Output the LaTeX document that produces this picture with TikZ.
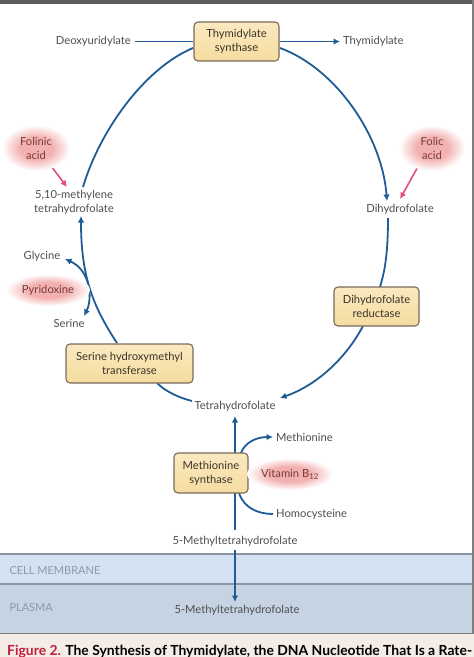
\documentclass[tikz,border=0pt]{standalone}
\usepackage{fontspec}
\setmainfont{Lato}
\usepackage{tikz}
\usetikzlibrary{backgrounds,shapes,arrows.meta}
\definecolor{pathblue}{HTML}{1F5B94}
\definecolor{vitpink}{HTML}{E0507A}
\definecolor{glowpink}{HTML}{F3B0B0}
\definecolor{enzfill}{HTML}{F5DCA0}
\definecolor{enztop}{HTML}{FAE9C0}
\definecolor{enzline}{HTML}{7A6A5A}
\definecolor{enztext}{HTML}{3D3329}
\definecolor{labeltext}{HTML}{4F4F4F}
\definecolor{vittext}{HTML}{7A3B3B}
\definecolor{regiontext}{HTML}{8D9AAB}
\definecolor{membrane}{HTML}{D3E1F2}
\definecolor{membranemid}{HTML}{E2EBF7}
\definecolor{plasma}{HTML}{C6D3E3}
\definecolor{bandline}{HTML}{8A96A5}
\definecolor{capback}{HTML}{F4ECE6}
\definecolor{figred}{HTML}{C41E3A}
\definecolor{frame}{HTML}{5E5E5E}
\pgfdeclareradialshading{glowshade}{\pgfpoint{0bp}{0bp}}{color(0bp)=(glowpink); color(12bp)=(glowpink); color(25bp)=(white); color(50bp)=(white)}
\newcommand{\diagfont}{\fontsize{11.2}{14}\selectfont}
\newcommand{\regfont}{\fontsize{11}{14}\selectfont}
\newcommand{\capfont}{\fontsize{13.9}{16}\selectfont\bfseries}
\pgfdeclarelayer{bglayer}
\pgfdeclarelayer{edgelayer}
\pgfdeclarelayer{nodelayer}
\pgfsetlayers{bglayer,edgelayer,nodelayer,main}
\tikzstyle{none}=[inner sep=0pt]
\tikzstyle{enzyme}=[rectangle,rounded corners=4pt,top color=enztop,bottom color=enzfill,draw=enzline,line width=1.1,align=center,text=enztext,minimum height=39,inner sep=0pt,font=\diagfont]
\tikzstyle{species}=[inner sep=1pt,align=center,text=labeltext,font=\diagfont]
\tikzstyle{vitamin}=[ellipse,shading=glowshade,inner sep=0pt,align=center,text=vittext,font=\diagfont]
\tikzstyle{region}=[anchor=west,text=regiontext,font=\regfont]
\tikzstyle{flow}=[-{Latex[length=6.5pt,width=6.5pt]},draw=pathblue,line width=1.8]
\tikzstyle{link}=[-,draw=pathblue,line width=1.8]
\tikzstyle{twoway}=[{Latex[length=6.5pt,width=6.5pt]}-{Latex[length=6.5pt,width=6.5pt]},draw=pathblue,line width=1.8]
\tikzstyle{vitarrow}=[-{Latex[length=6.5pt,width=6.5pt]},draw=vitpink,line width=1.6]
\begin{document}
\begin{tikzpicture}[x=1pt,y=-1pt]
	\useasboundingbox (0,0) rectangle (474,657);
	\clip (0,0) rectangle (474,657);
	\begin{pgfonlayer}{bglayer}
		\fill [white] (0,0) rectangle (474,657);
		\shade [top color=membrane,middle color=membranemid,bottom color=membrane] (0,554) rectangle (474,584);
		\fill [plasma] (0,584) rectangle (474,633);
		\fill [capback] (0,634) rectangle (474,657);
		\draw [bandline,line width=1.2] (0,554) -- (474,554);
		\draw [bandline,line width=1.2] (0,584) -- (474,584);
		\draw [frame!80,line width=1.6] (0,633.5) -- (474,633.5);
		\fill [frame] (0,0) rectangle (474,4);
		\fill [frame!80] (471.5,0) rectangle (474,633);
	\end{pgfonlayer}
	\begin{pgfonlayer}{nodelayer}
		\node [style=enzyme,minimum width=85] (ts) at (236.5,41.5) {Thymidylate\\synthase};
		\node [style=species,anchor=east] (dU) at (132,41.5) {Deoxyuridylate};
		\node [style=species,anchor=west] (dT) at (342,41.5) {Thymidylate};

		\node [style=vitamin,minimum width=68,minimum height=46] (folinic) at (36,148) {Folinic\\acid};
		\node [style=vitamin,minimum width=66,minimum height=46] (folic) at (432,148) {Folic\\acid};
		\node [style=species] (mthf) at (74,202) {5,10-methylene\\tetrahydrofolate};
		\node [style=species] (dhf) at (400,209) {Dihydrofolate};

		\node [style=species] (gly) at (42,256) {Glycine};
		\node [style=vitamin,minimum width=84,minimum height=32] (pyr) at (48,290) {Pyridoxine};
		\node [style=species] (ser) at (69,323) {Serine};

		\node [style=enzyme,minimum width=127] (shmt) at (129.5,363.5) {Serine hydroxymethyl\\transferase};
		\node [style=enzyme,minimum width=85] (dhfr) at (376.5,306.5) {Dihydrofolate\\reductase};
		\node [style=species] (thf) at (235,406) {Tetrahydrofolate};

		\node [style=enzyme,minimum width=74,minimum height=40] (ms) at (211,473) {Methionine\\synthase};
		\node [style=species,anchor=west] (met) at (275,437) {Methionine};
		\node [style=vitamin,minimum width=86,minimum height=32] (b12) at (290,474) {Vitamin B\textsubscript{12}};
		\node [style=species,anchor=west] (hcy) at (275,514) {Homocysteine};
		\node [style=species] (mtetra) at (235,541) {5-Methyltetrahydrofolate};
		\node [style=species] (pmtetra) at (237,610) {5-Methyltetrahydrofolate};

		\node [style=region] (cellm) at (6,571) {CELL MEMBRANE};
		\node [style=region] (plasmalbl) at (6,608) {PLASMA};
		\node [anchor=base west,inner sep=0pt,font=\capfont] (caption) at (7,655.5) {\textcolor{figred}{Figure 2.} The Synthesis of Thymidylate, the DNA Nucleotide That Is a Rate-};

		% attachment points
		\node [style=none] (tsl) at (193,48) {};
		\node [style=none] (tsr) at (280,48) {};
		\node [style=none] (mthft) at (83,187) {};
		\node [style=none] (mthfb) at (81,216) {};
		\node [style=none] (dhft) at (387,201) {};
		\node [style=none] (dhfb) at (388,218) {};
		\node [style=none] (dhfrt) at (380,287) {};
		\node [style=none] (dhfrb) at (363,326) {};
		\node [style=none] (thfr) at (280,398) {};
		\node [style=none] (thfl) at (192,401) {};
		\node [style=none] (thfb) at (235,416) {};
		\node [style=none] (shmtt) at (117,343) {};
		\node [style=none] (shmtb) at (157,383) {};
		\node [style=none] (glyt) at (65,259) {};
		\node [style=none] (sert) at (84,316) {};
		\node [style=none] (fna) at (48,162) {};
		\node [style=none] (fnb) at (67,187) {};
		\node [style=none] (fca) at (420,163) {};
		\node [style=none] (fcb) at (400,199) {};
		\node [style=none] (msa) at (241,453) {};
		\node [style=none] (msb) at (239,493) {};
		\node [style=none] (meti) at (273,437) {};
		\node [style=none] (hcyi) at (273,514) {};
		\node [style=none] (mtt) at (235,530) {};
		\node [style=none] (mtb) at (235,550) {};
		\node [style=none] (pmt) at (235,602) {};
	\end{pgfonlayer}
	\begin{pgfonlayer}{edgelayer}
		\draw [style=link,shorten <=3pt] (dU) to (ts);
		\draw [style=flow,shorten >=2pt] (ts) to (dT);
		\draw [style=link] (mthft.center) .. controls (100,130) and (145,68) .. (tsl.center);
		\draw [style=flow] (tsr.center) .. controls (335,68) and (382,135) .. (dhft.center);
		\draw [style=link] (dhfb.center) .. controls (388,262) and (383,276) .. (dhfrt.center);
		\draw [style=flow] (dhfrb.center) .. controls (345,360) and (315,386) .. (thfr.center);
		\draw [style=link] (thfl.center) .. controls (180,398) and (166,392) .. (shmtb.center);
		\draw [style=flow] (shmtt.center) .. controls (92,305) and (81,275) .. (mthfb.center);
		\draw [style=twoway] (sert.center) .. controls (93,298) and (90,270) .. (glyt.center);
		\draw [style=vitarrow] (fna.center) to (fnb.center);
		\draw [style=vitarrow] (fca.center) to (fcb.center);
		\draw [style=flow] (mtt.center) to (thfb.center);
		\draw [style=flow] (msa.center) .. controls (245,442) and (257,437) .. (meti.center);
		\draw [style=link] (msb.center) .. controls (244,508) and (258,514) .. (hcyi.center);
		\draw [style=flow] (mtb.center) to (pmt.center);
	\end{pgfonlayer}
\end{tikzpicture}
\end{document}
